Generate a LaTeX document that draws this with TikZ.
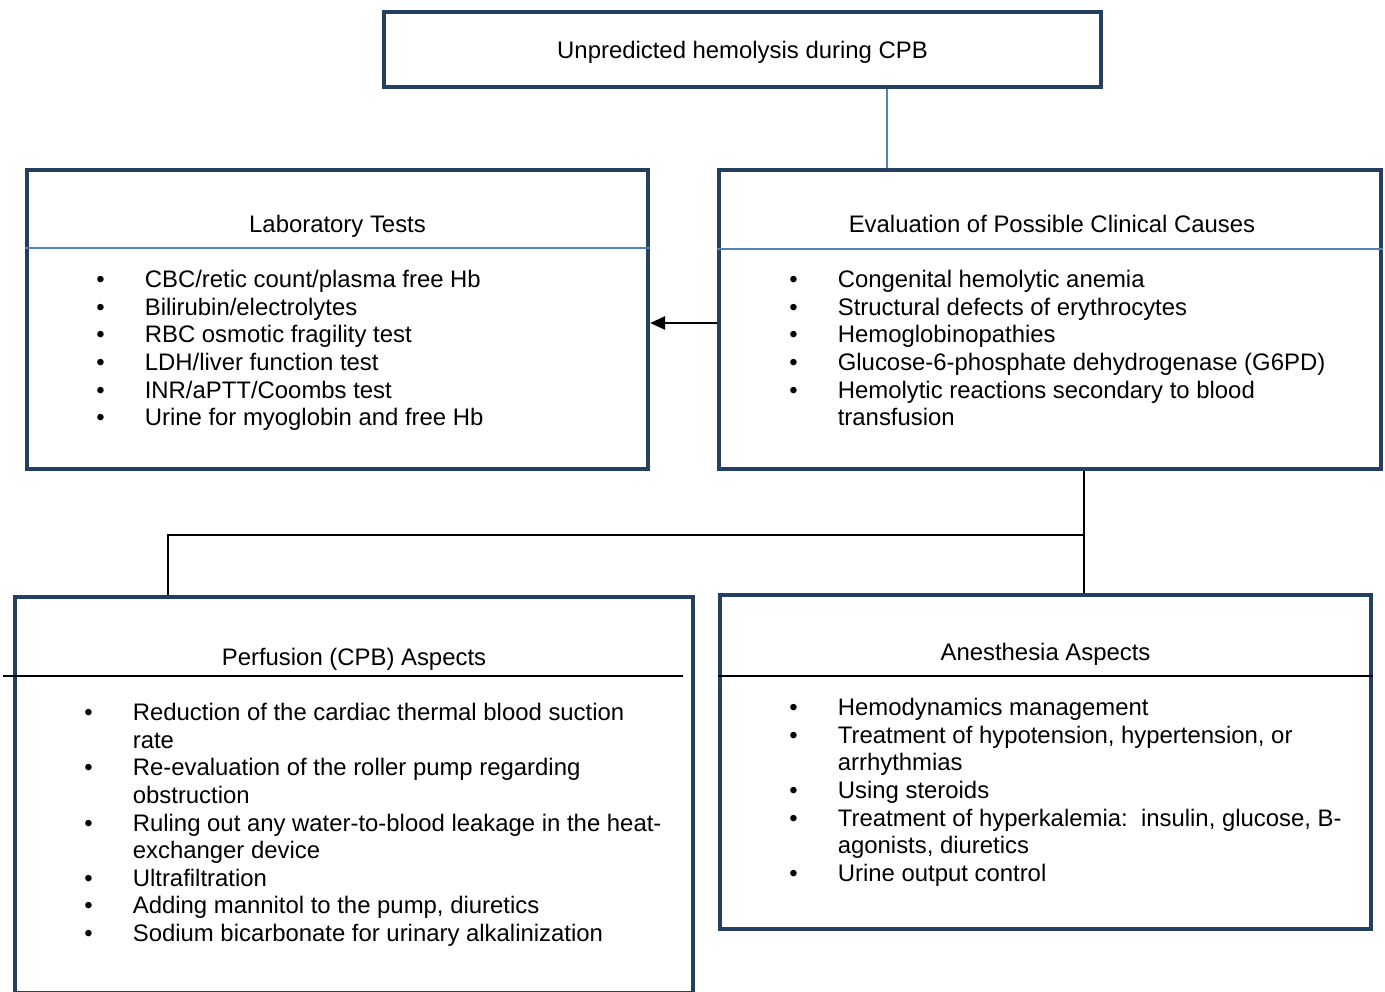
\documentclass[tikz,border=0pt]{standalone}
\usepackage{fontspec}
\setmainfont{Liberation Sans}
\usepackage{tikz}
\usetikzlibrary{arrows.meta,calc}
\definecolor{boxnavy}{HTML}{243F60}
\definecolor{rulenblue}{HTML}{4F81BD}
\newcommand{\bul}{\makebox[0.97cm][l]{\textbullet}}
\newcommand{\cnt}{\hspace*{0.97cm}}
\tikzset{
  >=Stealth,
  every node/.append style={font=\fontsize{13.6pt}{15.7pt}\selectfont},
}

\begin{document}
\begin{tikzpicture}[
  x=0.02cm, y=-0.02cm,
  box/.style={draw=boxnavy, line width=2.5pt, inner sep=0pt},
  ttl/.style={inner sep=0pt, anchor=center},
  lst/.style={inner sep=0pt, align=left, anchor=north west},
  sepblue/.style={draw=rulenblue, line width=0.9pt},
  sepblack/.style={draw=black, line width=0.9pt},
  link/.style={draw=black, line width=1pt},
  arr/.style={-{Triangle[length=8.5pt, width=7.5pt]}, draw=black, line width=1pt}
]
\useasboundingbox (0,0) rectangle (1385,991);

% Row 1: top box
\node[box, minimum width=14.34cm, minimum height=1.5cm] (top) at (742.5,49.5) {};
\node[ttl] (toptxt) at ($(top.center)+(0,3)$) {Unpredicted hemolysis during CPB};

% Row 2: lab tests + clinical causes
\node[box, minimum width=12.42cm, minimum height=5.98cm] (lab) at (337.5,319.5) {};
\node[box, minimum width=13.24cm, minimum height=5.98cm] (eval) at (1050,319.5) {};
\draw[sepblue] ($(lab.west)+(0,-71.5)$) -- ($(lab.east)+(0,-71.5)$);
\draw[sepblue] ($(eval.west)+(0,-70.5)$) -- ($(eval.east)+(0,-70.5)$);
\node[ttl] (labttl) at ($(lab.north)+(0,58)$) {Laboratory Tests};
\node[ttl] (evalttl) at ($(eval.north)+(2,56)$) {Evaluation of Possible Clinical Causes};

\node[lst] (lablst) at (96,270) {%
\bul CBC/retic count/plasma free Hb\\
\bul Bilirubin/electrolytes\\
\bul RBC osmotic fragility test\\
\bul LDH/liver function test\\
\bul INR/aPTT/Coombs test\\
\bul Urine for myoglobin and free Hb};

\node[lst] (evallst) at (789,270) {%
\bul Congenital hemolytic anemia\\
\bul Structural defects of erythrocytes\\
\bul Hemoglobinopathies\\
\bul Glucose-6-phosphate dehydrogenase (G6PD)\\
\bul Hemolytic reactions secondary to blood\\
\cnt transfusion};

% Row 3: perfusion + anesthesia
\node[box, minimum width=13.56cm, minimum height=7.92cm] (perf) at (354,795) {};
\node[box, minimum width=13.02cm, minimum height=6.68cm] (anes) at (1045.5,762) {};
\draw[sepblack] (3,676) -- (683,676);
\draw[sepblack] (anes.west |- 0,676) -- (anes.east |- 0,676);
\node[ttl] (perfttl) at ($(perf.north)+(0,64)$) {Perfusion (CPB) Aspects};
\node[ttl] (anesttl) at ($(anes.north)+(0,61)$) {Anesthesia Aspects};

\node[lst] (perflst) at (84,703) {%
\bul Reduction of the cardiac thermal blood suction\\
\cnt rate\\
\bul Re-evaluation of the roller pump regarding\\
\cnt obstruction\\
\bul Ruling out any water-to-blood leakage in the heat-\\
\cnt exchanger device\\
\bul Ultrafiltration\\
\bul Adding mannitol to the pump, diuretics\\
\bul Sodium bicarbonate for urinary alkalinization};

\node[lst] (aneslst) at (789,698) {%
\bul Hemodynamics management\\
\bul Treatment of hypotension, hypertension, or\\
\cnt arrhythmias\\
\bul Using steroids\\
\bul Treatment of hyperkalemia:\ \ insulin, glucose, B-\\
\cnt agonists, diuretics\\
\bul Urine output control};

% Connectors
\coordinate (tap) at (887,0);
\draw[sepblue, line width=1pt] (top.south -| tap) -- (eval.north -| tap);
\draw[arr] (eval.west |- 0,323) -- (lab.east |- 0,323);
\coordinate (split) at (1084,535);
\draw[link] (eval.south -| split) -- (anes.north -| split);
\draw[link] (split) -| (perf.north -| 168,0);

\end{tikzpicture}
\end{document}
